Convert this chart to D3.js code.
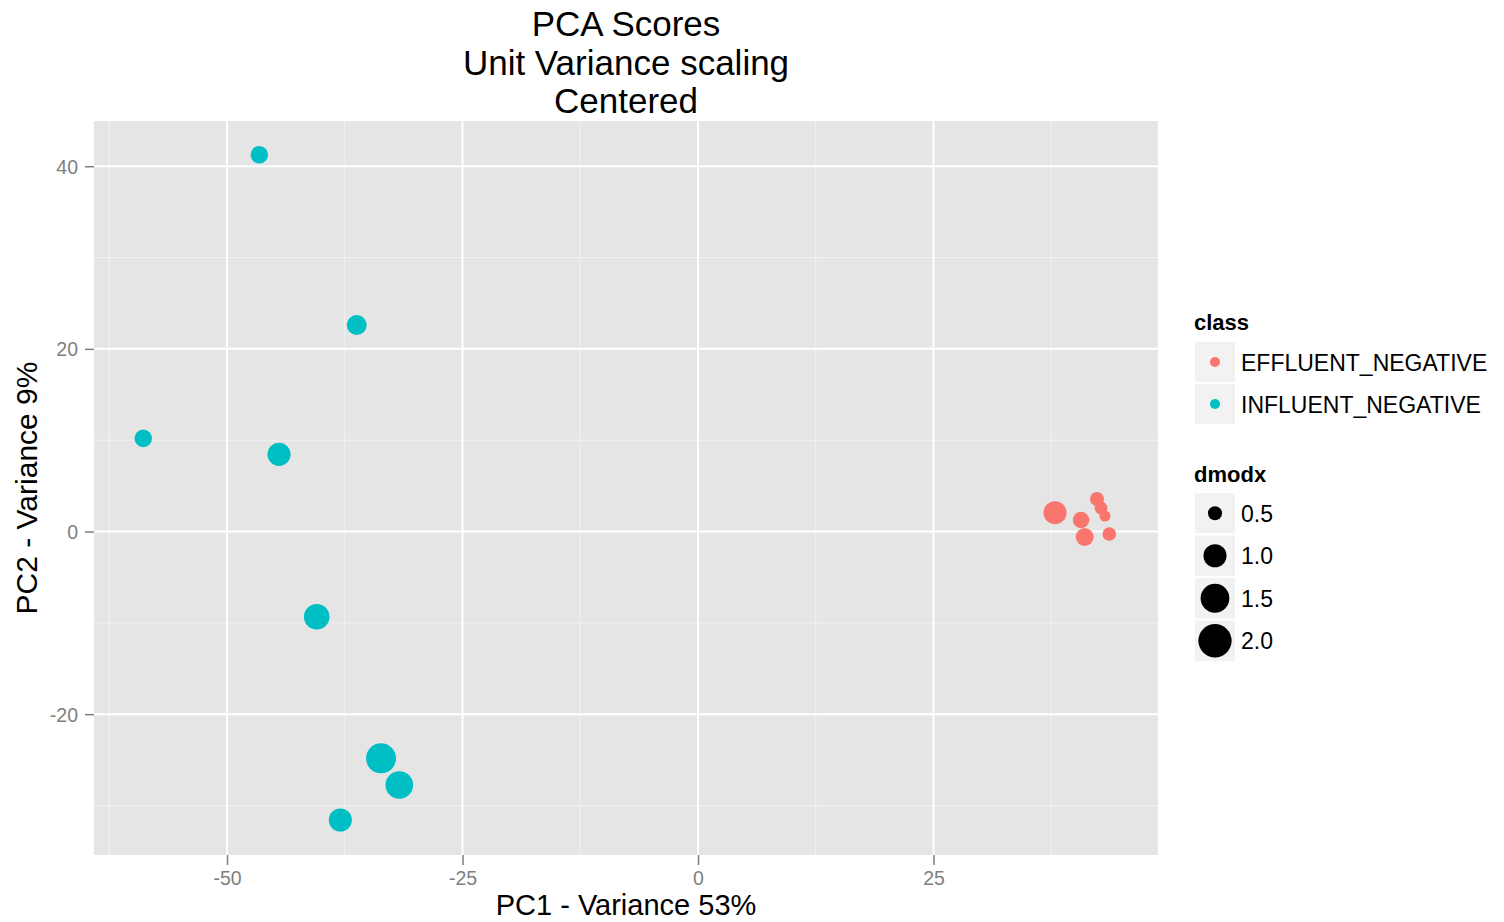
<!DOCTYPE html>
<html>
<head>
<meta charset="utf-8">
<script src="https://cdn.jsdelivr.net/npm/d3@7"></script>
<style>
  body { margin: 0; background: #fff; }
  svg { display: block; font-family: "Liberation Sans", Arial, Helvetica, sans-serif; }
</style>
</head>
<body>
<svg width="1504" height="922"></svg>
<script>
// data
var classes = ["EFFLUENT_NEGATIVE", "INFLUENT_NEGATIVE"];
var classColors = ["#F8766D", "#00BFC4"];

var sampleClass = ["INFLUENT_NEGATIVE", "INFLUENT_NEGATIVE", "INFLUENT_NEGATIVE", "INFLUENT_NEGATIVE",
                   "INFLUENT_NEGATIVE", "INFLUENT_NEGATIVE", "INFLUENT_NEGATIVE", "INFLUENT_NEGATIVE",
                   "EFFLUENT_NEGATIVE", "EFFLUENT_NEGATIVE", "EFFLUENT_NEGATIVE", "EFFLUENT_NEGATIVE",
                   "EFFLUENT_NEGATIVE", "EFFLUENT_NEGATIVE", "EFFLUENT_NEGATIVE"];
var pc1 = [-46.57, -36.23, -58.89, -44.48, -40.48, -33.65, -31.71, -37.97,
           37.90, 40.66, 41.05, 42.35, 42.78, 43.20, 43.66];
var pc2 = [41.26, 22.61, 10.20, 8.45, -9.33, -24.83, -27.76, -31.59,
           2.06, 1.26, -0.60, 3.56, 2.57, 1.70, -0.27];
var dmodx = [0.65, 0.79, 0.65, 1.00, 1.21, 1.63, 1.39, 1.00,
             1.00, 0.60, 0.67, 0.50, 0.46, 0.41, 0.48];

var xTicks = [-50, -25, 0, 25];
var yTicks = [-20, 0, 20, 40];
var xMinor = [-62.5, -37.5, -12.5, 12.5, 37.5];
var yMinor = [-30, -10, 10, 30];
var sizeBreaks = [0.5, 1.0, 1.5, 2.0];

var titleLines = ["PCA Scores", "Unit Variance scaling", "Centered"];

var svg = d3.select("svg");

var panel = { left: 94, right: 1158, top: 121, bottom: 855 };

var x = d3.scaleLinear()
    .domain([-64.12, 48.83])
    .range([panel.left, panel.right]);

var y = d3.scaleLinear()
    .domain([-35.42, 44.95])
    .range([panel.bottom, panel.top]);

var color = d3.scaleOrdinal().domain(classes).range(classColors);

// size: area-ish mapping like ggplot's scale_size
var sizeMin = 0.35;
var sqrtScale = d3.scaleSqrt().domain([0, 1.65]).range([0, 13.75]);
function radius(v) { return 2.9 + sqrtScale(Math.max(0, v - sizeMin)); }

// plain hyphen for negatives, like R
function fmt(d) { return String(d); }

// Panel background
svg.append("rect")
    .attr("x", panel.left)
    .attr("y", panel.top)
    .attr("width", panel.right - panel.left)
    .attr("height", panel.bottom - panel.top)
    .attr("fill", "#E5E5E5");

// Grid lines
var grid = svg.append("g");
grid.selectAll(".xminor").data(xMinor).enter().append("line")
    .attr("x1", function(d) { return x(d); }).attr("x2", function(d) { return x(d); })
    .attr("y1", panel.top).attr("y2", panel.bottom)
    .attr("stroke", "#F2F2F2").attr("stroke-width", 1);
grid.selectAll(".yminor").data(yMinor).enter().append("line")
    .attr("y1", function(d) { return y(d); }).attr("y2", function(d) { return y(d); })
    .attr("x1", panel.left).attr("x2", panel.right)
    .attr("stroke", "#F2F2F2").attr("stroke-width", 1);
grid.selectAll(".xmajor").data(xTicks).enter().append("line")
    .attr("x1", function(d) { return x(d); }).attr("x2", function(d) { return x(d); })
    .attr("y1", panel.top).attr("y2", panel.bottom)
    .attr("stroke", "#FFFFFF").attr("stroke-width", 2);
grid.selectAll(".ymajor").data(yTicks).enter().append("line")
    .attr("y1", function(d) { return y(d); }).attr("y2", function(d) { return y(d); })
    .attr("x1", panel.left).attr("x2", panel.right)
    .attr("stroke", "#FFFFFF").attr("stroke-width", 2);

// Axes
var xAxis = svg.append("g")
    .attr("transform", "translate(0," + panel.bottom + ")")
    .call(d3.axisBottom(x).tickValues(xTicks).tickSize(10).tickPadding(6).tickFormat(fmt));
var yAxis = svg.append("g")
    .attr("transform", "translate(" + panel.left + ",0)")
    .call(d3.axisLeft(y).tickValues(yTicks).tickSize(9).tickPadding(7).tickFormat(fmt));

[xAxis, yAxis].forEach(function(a) {
    a.select(".domain").remove();
    a.selectAll(".tick line").attr("stroke", "#7F7F7F").attr("stroke-width", 1.5);
    a.selectAll(".tick text")
        .attr("fill", "#7F7F7F")
        .style("font-size", "19.5px")
        .style("font-family", "'Liberation Sans', Arial, sans-serif");
});
yAxis.selectAll(".tick text").attr("dy", "0.35em");

// Points
var points = pc1.map(function(d, i) {
    return { x: d, y: pc2[i], size: dmodx[i], cls: sampleClass[i] };
});

svg.append("g").selectAll("circle")
    .data(points)
    .enter().append("circle")
    .attr("cx", function(d) { return x(d.x); })
    .attr("cy", function(d) { return y(d.y); })
    .attr("r", function(d) { return radius(d.size); })
    .attr("fill", function(d) { return color(d.cls); });

// Title
svg.append("text")
    .attr("text-anchor", "middle")
    .attr("font-size", "35px")
    .attr("fill", "#000")
    .selectAll("tspan")
    .data(titleLines)
    .enter().append("tspan")
    .attr("x", (panel.left + panel.right) / 2)
    .attr("y", function(d, i) { return 36 + i * 38.5; })
    .text(function(d) { return d; });

// Axis titles
svg.append("text")
    .attr("x", (panel.left + panel.right) / 2)
    .attr("y", 915)
    .attr("text-anchor", "middle")
    .attr("font-size", "29px")
    .attr("fill", "#000")
    .text("PC1 - Variance 53%");

svg.append("text")
    .attr("transform", "translate(37," + ((panel.top + panel.bottom) / 2) + ") rotate(-90)")
    .attr("text-anchor", "middle")
    .attr("font-size", "30px")
    .attr("fill", "#000")
    .text("PC2 - Variance 9%");

// Legends
var keyX = 1194, keyW = 42, keyH = 42;

var lg1 = svg.append("g");
lg1.append("text")
    .attr("x", keyX).attr("y", 330)
    .attr("font-size", "22px").attr("font-weight", "bold")
    .text("class");
var k1 = lg1.selectAll("g").data(classes).enter().append("g")
    .attr("transform", function(d, i) { return "translate(" + keyX + "," + (341 + i * keyH) + ")"; });
k1.append("rect")
    .attr("width", keyW).attr("height", keyH)
    .attr("fill", "#F2F2F2").attr("stroke", "#FFFFFF").attr("stroke-width", 2);
k1.append("circle")
    .attr("cx", keyW / 2).attr("cy", keyH / 2).attr("r", 5)
    .attr("fill", function(d) { return color(d); });
k1.append("text")
    .attr("x", keyW + 5).attr("y", keyH / 2 + 8.5)
    .attr("font-size", "23px")
    .text(function(d) { return d; });

var lg2 = svg.append("g");
lg2.append("text")
    .attr("x", keyX).attr("y", 482)
    .attr("font-size", "22px").attr("font-weight", "bold")
    .text("dmodx");
var k2 = lg2.selectAll("g").data(sizeBreaks).enter().append("g")
    .attr("transform", function(d, i) { return "translate(" + keyX + "," + (492 + i * 42.5) + ")"; });
k2.append("rect")
    .attr("width", keyW).attr("height", 42.5)
    .attr("fill", "#F2F2F2").attr("stroke", "#FFFFFF").attr("stroke-width", 2);
k2.append("circle")
    .attr("cx", keyW / 2).attr("cy", 21.25)
    .attr("r", function(d) { return radius(d); })
    .attr("fill", "#000");
k2.append("text")
    .attr("x", keyW + 5).attr("y", 21.25 + 8.5)
    .attr("font-size", "23px")
    .text(function(d) { return d3.format(".1f")(d); });
</script>
</body>
</html>
